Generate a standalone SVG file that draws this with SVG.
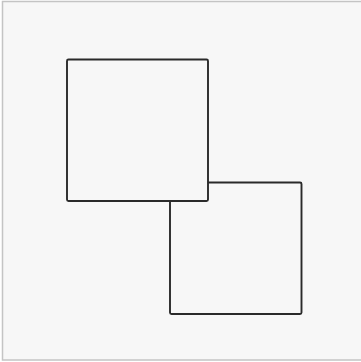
<svg xmlns="http://www.w3.org/2000/svg" width="361" height="362" viewBox="0 0 361 362">
<style>
.sq{fill:#f7f7f7;stroke:#2a2a2a;stroke-width:1.9}
</style>
<rect x="0" y="0" width="361" height="362" fill="#ffffff"/>
<rect x="2.5" y="1.5" width="362" height="358.5" fill="#f7f7f7" stroke="#c4c4c4" stroke-width="1.5"/>
<g id="square2"><rect class="sq" x="170" y="182.5" width="131.5" height="131.5" rx="1.5"/></g>
<g id="square1"><rect class="sq" x="67" y="59.5" width="141" height="141.5" rx="1.5"/></g>
<g id="connectors"></g>
</svg>
